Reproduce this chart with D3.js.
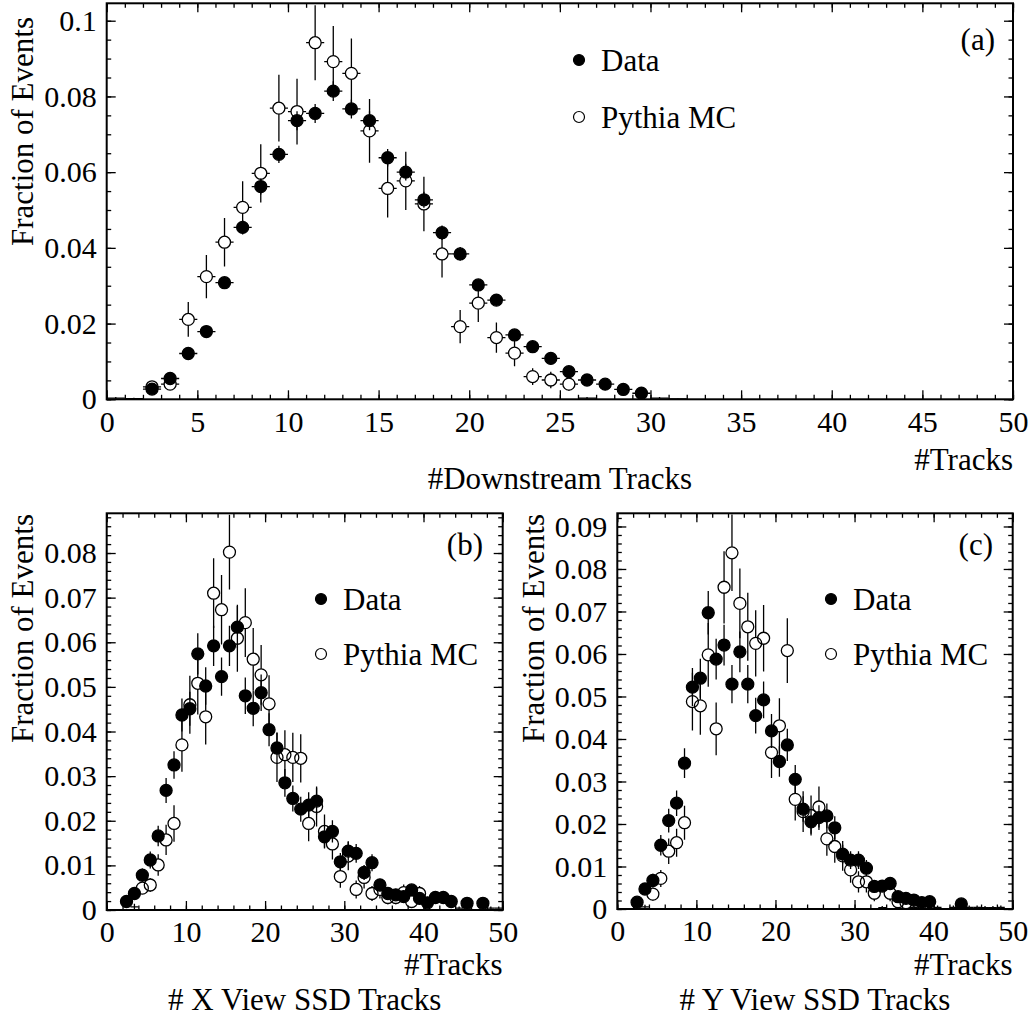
<!DOCTYPE html>
<html>
<head>
<meta charset="utf-8">
<script src="https://cdn.jsdelivr.net/npm/d3@7"></script>
<style>
  body { margin: 0; background: #fff; }
  svg { display: block; }
  text { font-family: "Liberation Serif", "Times New Roman", serif; fill: #000; }
</style>
</head>
<body>
<svg id="fig" width="1031" height="1019"></svg>
<script>
// ------------------------------------------------------------
// Data : one value per bin, bins centred on 0.5 ... 49.5
// (_ = empty bin)
// ------------------------------------------------------------
const _ = null;
const binCentres = d3.range(50).map(i => i + 0.5);

// (a) #Downstream Tracks
const downData = [
  _, 0.0002, 0.0027, 0.0055, 0.0121, 0.0179, 0.0308, 0.0454, 0.0562, 0.0647,
  0.0736, 0.0755, 0.0814, 0.0767, 0.0736, 0.0638, 0.0600, 0.0527, 0.0440, 0.0384,
  0.0302, 0.0262, 0.0170, 0.0139, 0.0108, 0.0073, 0.0051, 0.0040, 0.0026, 0.0016,
  _, 0.0001, _, _, _, _, _, _, _, _,
  _, _, _, _, _, _, _, _, _, _];
const downDataErr = [
  _, 0.0002, 0.0005, 0.0007, 0.0010, 0.0012, 0.0016, 0.0019, 0.0021, 0.0023,
  0.0025, 0.0025, 0.0026, 0.0025, 0.0025, 0.0023, 0.0022, 0.0021, 0.0019, 0.0018,
  0.0016, 0.0015, 0.0012, 0.0011, 0.0010, 0.0008, 0.0007, 0.0006, 0.0005, 0.0004,
  _, 0.0001, _, _, _, _, _, _, _, _,
  _, _, _, _, _, _, _, _, _, _];
const downMC = [
  0.0003, _, 0.0033, 0.0040, 0.0211, 0.0324, 0.0415, 0.0507, 0.0597, 0.0769,
  0.0760, 0.0942, 0.0892, 0.0861, 0.0709, 0.0557, 0.0577, 0.0516, 0.0384, 0.0192,
  0.0254, 0.0163, 0.0122, 0.0060, 0.0051, 0.0040, 0.0003, _, _, _,
  0.0003, _, _, _, _, _, _, _, _, _,
  _, _, _, _, _, _, _, _, _, _];
const downMCErr = [
  0.0003, _, 0.0009, 0.0009, 0.0046, 0.0057, 0.0064, 0.0069, 0.0077, 0.0088,
  0.0087, 0.0099, 0.0094, 0.0092, 0.0084, 0.0077, 0.0077, 0.0072, 0.0062, 0.0044,
  0.0050, 0.0040, 0.0035, 0.0022, 0.0022, 0.0018, 0.0003, _, _, _,
  0.0003, _, _, _, _, _, _, _, _, _,
  _, _, _, _, _, _, _, _, _, _];

// (b) # X View SSD Tracks
const xViewData = [
  _, _, 0.0019, 0.0037, 0.0078, 0.0112, 0.0166, 0.0268, 0.0325, 0.0437,
  0.0451, 0.0574, 0.0502, 0.0592, 0.0523, 0.0592, 0.0634, 0.0480, 0.0452, 0.0487,
  0.0404, 0.0363, 0.0285, 0.0250, 0.0226, 0.0235, 0.0244, 0.0164, 0.0176, 0.0108,
  0.0132, 0.0127, 0.0084, 0.0106, 0.0056, 0.0037, 0.0034, 0.0030, 0.0045, 0.0026,
  0.0016, 0.0028, 0.0028, 0.0019, _, 0.0015, _, 0.0015, _, _];
const xViewDataErr = [
  _, _, 0.0008, 0.0011, 0.0015, 0.0019, 0.0023, 0.0028, 0.0031, 0.0037,
  0.0038, 0.0046, 0.0042, 0.0045, 0.0043, 0.0045, 0.0047, 0.0041, 0.0040, 0.0041,
  0.0037, 0.0035, 0.0031, 0.0029, 0.0028, 0.0029, 0.0030, 0.0024, 0.0025, 0.0020,
  0.0022, 0.0021, 0.0017, 0.0019, 0.0014, 0.0011, 0.0011, 0.0010, 0.0012, 0.0009,
  0.0007, 0.0009, 0.0009, 0.0008, _, 0.0007, _, 0.0007, _, _];
const xViewMC = [
  _, _, _, 0.0007, 0.0049, 0.0056, 0.0101, 0.0157, 0.0194, 0.0370,
  0.0460, 0.0508, 0.0433, 0.0710, 0.0673, 0.0802, 0.0609, 0.0644, 0.0562, 0.0527,
  0.0462, 0.0342, 0.0348, 0.0342, 0.0340, 0.0194, 0.0232, 0.0176, 0.0148, 0.0075,
  0.0121, 0.0046, 0.0073, 0.0037, 0.0046, 0.0028, 0.0028, 0.0039, 0.0019, 0.0037,
  _, _, _, _, 0.0004, _, _, _, 0.0004, 0.0004];
const xViewMCErr = [
  _, _, _, 0.0007, 0.0013, 0.0015, 0.0024, 0.0034, 0.0041, 0.0060,
  0.0065, 0.0070, 0.0062, 0.0078, 0.0078, 0.0084, 0.0075, 0.0077, 0.0070, 0.0067,
  0.0064, 0.0055, 0.0055, 0.0055, 0.0054, 0.0040, 0.0045, 0.0038, 0.0035, 0.0025,
  0.0032, 0.0020, 0.0025, 0.0017, 0.0020, 0.0015, 0.0015, 0.0018, 0.0012, 0.0017,
  _, _, _, _, 0.0004, _, _, _, 0.0004, 0.0004];

// (c) # Y View SSD Tracks
const yViewData = [
  _, _, 0.0016, 0.0047, 0.0067, 0.0150, 0.0208, 0.0249, 0.0343, 0.0522,
  0.0543, 0.0697, 0.0588, 0.0621, 0.0529, 0.0605, 0.0529, 0.0455, 0.0492, 0.0419,
  0.0347, 0.0386, 0.0305, 0.0235, 0.0205, 0.0215, 0.0219, 0.0191, 0.0129, 0.0115,
  0.0115, 0.0096, 0.0053, 0.0054, 0.0060, 0.0029, 0.0025, 0.0021, 0.0015, 0.0017,
  _, _, _, 0.0012, _, _, _, _, _, _];
const yViewDataErr = [
  _, _, 0.0008, 0.0013, 0.0016, 0.0024, 0.0028, 0.0030, 0.0035, 0.0045,
  0.0046, 0.0051, 0.0048, 0.0048, 0.0045, 0.0048, 0.0045, 0.0042, 0.0043, 0.0040,
  0.0036, 0.0038, 0.0034, 0.0030, 0.0028, 0.0029, 0.0029, 0.0027, 0.0022, 0.0021,
  0.0021, 0.0019, 0.0014, 0.0014, 0.0015, 0.0011, 0.0010, 0.0009, 0.0008, 0.0008,
  _, _, _, 0.0007, _, _, _, _, _, _];
const yViewMC = [
  _, _, _, 0.0005, 0.0035, 0.0072, 0.0136, 0.0156, 0.0203, 0.0488,
  0.0478, 0.0598, 0.0424, 0.0757, 0.0838, 0.0719, 0.0664, 0.0625, 0.0637, 0.0368,
  0.0431, 0.0608, 0.0258, 0.0229, 0.0220, 0.0240, 0.0165, 0.0147, 0.0125, 0.0092,
  0.0064, 0.0064, 0.0037, 0.0003, 0.0037, 0.0017, 0.0015, 0.0004, _, _,
  0.0004, _, 0.0004, _, 0.0004, 0.0004, 0.0003, 0.0003, 0.0004, _];
const yViewMCErr = [
  _, _, _, 0.0005, 0.0015, 0.0020, 0.0030, 0.0033, 0.0040, 0.0068,
  0.0068, 0.0075, 0.0062, 0.0085, 0.0090, 0.0082, 0.0080, 0.0078, 0.0078, 0.0060,
  0.0065, 0.0076, 0.0050, 0.0048, 0.0047, 0.0048, 0.0040, 0.0038, 0.0035, 0.0030,
  0.0025, 0.0025, 0.0019, 0.0004, 0.0019, 0.0013, 0.0012, 0.0004, _, _,
  0.0004, _, 0.0004, _, 0.0004, 0.0004, 0.0004, 0.0004, 0.0004, _];

// tick labels
const downXTicks = [0, 5, 10, 15, 20, 25, 30, 35, 40, 45, 50];
const downYTicks = [0, 0.02, 0.04, 0.06, 0.08, 0.1];
const ssdXTicks = [0, 10, 20, 30, 40, 50];
const xViewYTicks = [0, 0.01, 0.02, 0.03, 0.04, 0.05, 0.06, 0.07, 0.08];
const yViewYTicks = [0, 0.01, 0.02, 0.03, 0.04, 0.05, 0.06, 0.07, 0.08, 0.09];

const legendLabels = ["Data", "Pythia MC"];
const yTitle = "Fraction of Events";
const xTitle = "#Tracks";

// ------------------------------------------------------------
// Layout of the three pads
// ------------------------------------------------------------
const panels = [
  { tag: "(a)", title: "#Downstream Tracks",
    x0: 106.7, x1: 1013, y0: 3.3, y1: 399.3, yMax: 0.1046,
    xTicks: downXTicks, xMinorStep: 1, yTicks: downYTicks, yMinorStep: 0.005,
    data: downData, dataErr: downDataErr, mc: downMC, mcErr: downMCErr,
    tagX: 995, tagY: 50, legX: 579, legY: 60, legDy: 57,
    xTitleY: 470, titleY: 489, yTitleX: 33, yTitleY: 17 },
  { tag: "(b)", title: "# X View SSD Tracks",
    x0: 106.7, x1: 502.7, y0: 513.3, y1: 910, yMax: 0.0889,
    xTicks: ssdXTicks, xMinorStep: 2, yTicks: xViewYTicks, yMinorStep: 0.002,
    data: xViewData, dataErr: xViewDataErr, mc: xViewMC, mcErr: xViewMCErr,
    tagX: 483, tagY: 555, legX: 321, legY: 599, legDy: 55,
    xTitleY: 975, titleY: 1010, yTitleX: 33, yTitleY: 514 },
  { tag: "(c)", title: "# Y View SSD Tracks",
    x0: 617.3, x1: 1012.7, y0: 513.3, y1: 909, yMax: 0.0931,
    xTicks: ssdXTicks, xMinorStep: 2, yTicks: yViewYTicks, yMinorStep: 0.002,
    data: yViewData, dataErr: yViewDataErr, mc: yViewMC, mcErr: yViewMCErr,
    tagX: 993, tagY: 555, legX: 831, legY: 599, legDy: 55,
    xTitleY: 975, titleY: 1010, yTitleX: 543.5, yTitleY: 514 }
];

const svg = d3.select("#fig");
const R = 6;              // marker radius
const FONT_TICK = 30;
const FONT_TEXT = 31;
const fmt = d => String(+d.toFixed(3));

function range(step, max) {
  const n = Math.round(max / step);
  return d3.range(n + 1).map(i => +(i * step).toFixed(4)).filter(v => v <= max + 1e-9);
}

panels.forEach((p, pi) => {
  const x = d3.scaleLinear().domain([0, 50]).range([p.x0, p.x1]);
  const y = d3.scaleLinear().domain([0, p.yMax]).range([p.y1, p.y0]);
  const g = svg.append("g");

  const clipId = "clip" + pi;
  svg.append("clipPath").attr("id", clipId).append("rect")
    .attr("x", p.x0).attr("y", p.y0).attr("width", p.x1 - p.x0).attr("height", p.y1 - p.y0);

  const xMinor = range(p.xMinorStep, 50);
  const yMinor = range(p.yMinorStep, p.yMax);

  // --- axes (ticks pointing inwards on all four sides) ---
  const styleAxis = sel => {
    sel.select(".domain").remove();
    sel.selectAll("line").attr("stroke", "#000").attr("stroke-width", 1.3);
    sel.selectAll("text").style("font-size", FONT_TICK + "px")
      .style("font-family", "'Liberation Serif','Times New Roman',serif");
  };
  g.append("g").attr("transform", `translate(0,${p.y1})`)
    .call(d3.axisBottom(x).tickValues(xMinor).tickSize(-4.5).tickFormat("")).call(styleAxis);
  g.append("g").attr("transform", `translate(0,${p.y1})`)
    .call(d3.axisBottom(x).tickValues(p.xTicks).tickSize(-9).tickPadding(11).tickFormat(fmt)).call(styleAxis);
  g.append("g").attr("transform", `translate(0,${p.y0})`)
    .call(d3.axisTop(x).tickValues(xMinor).tickSize(-4.5).tickFormat("")).call(styleAxis);
  g.append("g").attr("transform", `translate(0,${p.y0})`)
    .call(d3.axisTop(x).tickValues(p.xTicks).tickSize(-9).tickFormat("")).call(styleAxis);
  g.append("g").attr("transform", `translate(${p.x0},0)`)
    .call(d3.axisLeft(y).tickValues(yMinor).tickSize(-4.5).tickFormat("")).call(styleAxis);
  g.append("g").attr("transform", `translate(${p.x0},0)`)
    .call(d3.axisLeft(y).tickValues(p.yTicks).tickSize(-9).tickPadding(10).tickFormat(fmt)).call(styleAxis);
  g.append("g").attr("transform", `translate(${p.x1},0)`)
    .call(d3.axisRight(y).tickValues(yMinor).tickSize(-4.5).tickFormat("")).call(styleAxis);
  g.append("g").attr("transform", `translate(${p.x1},0)`)
    .call(d3.axisRight(y).tickValues(p.yTicks).tickSize(-9).tickFormat("")).call(styleAxis);

  g.append("rect").attr("x", p.x0).attr("y", p.y0)
    .attr("width", p.x1 - p.x0).attr("height", p.y1 - p.y0)
    .attr("fill", "none").attr("stroke", "#000").attr("stroke-width", 2);

  // --- points with error bars (bars gapped around the marker, as ROOT does) ---
  const plot = g.append("g").attr("clip-path", `url(#${clipId})`);
  const drawSeries = (vals, errs, filled) => {
    const pts = binCentres.map((c, i) => ({ c, v: vals[i], e: errs[i] }))
      .filter(d => d.v !== null);
    const segs = [];
    pts.forEach(d => {
      const px = x(d.c), py = y(d.v);
      const hw = x(d.c + 0.5) - px;
      const ev = y(d.v - d.e) - py;
      const mark = d.v >= 0.0008;
      const gap = mark ? R : 0;
      if (hw > gap) {
        segs.push([px - hw, py, px - gap, py], [px + gap, py, px + hw, py]);
      }
      if (ev > gap) {
        segs.push([px, py - ev, px, py - gap], [px, py + gap, px, py + ev]);
      }
      d.mark = mark; d.px = px; d.py = py;
    });
    plot.append("g").selectAll("line").data(segs).join("line")
      .attr("x1", s => s[0]).attr("y1", s => s[1]).attr("x2", s => s[2]).attr("y2", s => s[3])
      .attr("stroke", "#000").attr("stroke-width", 1.3);
    plot.append("g").selectAll("circle").data(pts.filter(d => d.mark)).join("circle")
      .attr("cx", d => d.px).attr("cy", d => d.py).attr("r", R)
      .attr("fill", filled ? "#000" : "none")
      .attr("stroke", "#000").attr("stroke-width", 1.3);
  };
  drawSeries(p.mc, p.mcErr, false);
  drawSeries(p.data, p.dataErr, true);

  // --- legend ---
  legendLabels.forEach((lab, i) => {
    const ly = p.legY + i * p.legDy;
    g.append("circle").attr("cx", p.legX).attr("cy", ly).attr("r", 5.5)
      .attr("fill", i === 0 ? "#000" : "none").attr("stroke", "#000").attr("stroke-width", 1.2);
    g.append("text").attr("x", p.legX + 22).attr("y", ly + 10.5)
      .style("font-size", FONT_TEXT + "px").text(lab);
  });

  g.append("text").attr("x", p.tagX).attr("y", p.tagY).attr("text-anchor", "end")
    .style("font-size", FONT_TEXT + "px").text(p.tag);

  // --- titles ---
  g.append("text").attr("x", p.x1).attr("y", p.xTitleY).attr("text-anchor", "end")
    .style("font-size", FONT_TEXT + "px").text(xTitle);
  g.append("text").attr("x", (p.x0 + p.x1) / 2).attr("y", p.titleY).attr("text-anchor", "middle")
    .style("font-size", FONT_TEXT + "px").text(p.title);
  g.append("text")
    .attr("transform", `translate(${p.yTitleX},${p.yTitleY}) rotate(-90)`)
    .attr("text-anchor", "end")
    .style("font-size", FONT_TEXT + "px").text(yTitle);
});
</script>
</body>
</html>
